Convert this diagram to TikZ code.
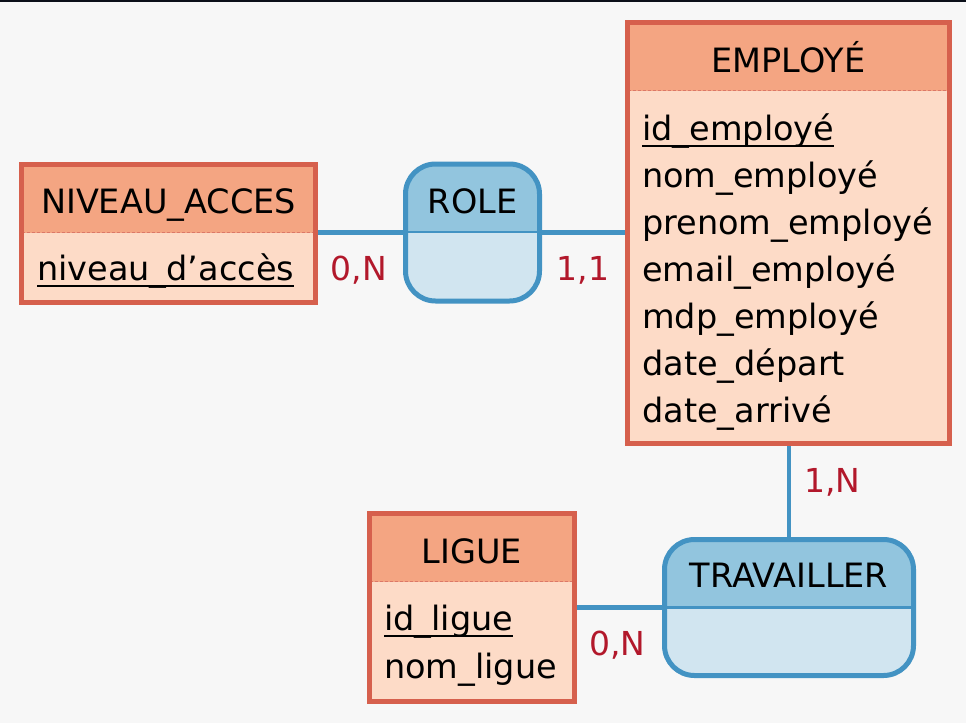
\documentclass[tikz,border=0pt]{standalone}
\usepackage{fontspec}
\setmainfont{DejaVu Sans}
\definecolor{entborder}{HTML}{D6604D}
\definecolor{enthead}{HTML}{F4A582}
\definecolor{entbody}{HTML}{FDDBC7}
\definecolor{asborder}{HTML}{4393C3}
\definecolor{ashead}{HTML}{92C5DE}
\definecolor{asbody}{HTML}{D1E5F0}
\definecolor{cardred}{HTML}{B2182B}
\definecolor{paper}{HTML}{F7F7F7}
\definecolor{topbar}{HTML}{0B0F19}
\def\keyattr#1{\setbox0\hbox{#1}\rlap{\rule[-7pt]{\wd0}{1.8pt}}\box0}
\tikzset{
  entity/.style={draw=entborder, line width=5pt, fill=entbody, inner sep=0pt,
    path picture={
      \fill[enthead, sharp corners] (path picture bounding box.north west) rectangle ([yshift=-68pt]path picture bounding box.north east);
      \draw[entborder!85, line width=1.5pt, dash pattern=on 3pt off 2pt] ([yshift=-68pt]path picture bounding box.north west) -- ([yshift=-68pt]path picture bounding box.north east);}},
  assoc/.style={draw=asborder, line width=5pt, fill=asbody, rounded corners=30pt, inner sep=0pt,
    path picture={
      \fill[ashead, sharp corners] (path picture bounding box.north west) rectangle ([yshift=-68pt]path picture bounding box.north east);
      \draw[asborder, line width=2.5pt, sharp corners] ([yshift=-68pt]path picture bounding box.north west) -- ([yshift=-68pt]path picture bounding box.north east);}},
  link/.style={draw=asborder, line width=4.5pt},
  title/.style={anchor=base, inner sep=0pt, font=\fontsize{33.5}{40}\selectfont},
  attr/.style={anchor=base west, inner sep=0pt, font=\fontsize{33.5}{40}\selectfont},
  card/.style={anchor=base, inner sep=0pt, text=cardred, font=\fontsize{33}{38}\selectfont},
}

\begin{document}
\begin{tikzpicture}[x=1pt, y=-1pt]
	%%%%% PAGE %%%%%
	\fill[paper] (0,0) rectangle (966,723);
	\fill[topbar] (0,0) rectangle (966,2);
	
	%%%%% BOXES %%%%%
	\node[entity, minimum width=322pt, minimum height=421pt] (employe) at (788.5,233) {};
	\node[entity, minimum width=294pt, minimum height=138pt] (niveau) at (168.5,233.5) {};
	\node[entity, minimum width=205pt, minimum height=188pt] (ligue) at (472,607.5) {};
	\node[assoc, minimum width=134pt, minimum height=137pt] (role) at (472.5,232.5) {};
	\node[assoc, minimum width=249pt, minimum height=136pt] (travailler) at (789,607.5) {};
	
	%%%%% LINKS %%%%%
	\draw[link] (role.west) -- (role.west -| niveau.east);
	\draw[link] (role.east) -- (role.east -| employe.west);
	\draw[link] (travailler.north) -- (travailler.north |- employe.south);
	\draw[link] (travailler.west) -- (travailler.west -| ligue.east);
	
	%%%%% TITLES %%%%%
	\node[title] (employe-title) at (788.5,72) {EMPLOYÉ};
	\node[title] (niveau-title) at (168.5,213) {NIVEAU\_ACCES};
	\node[title] (ligue-title) at (472,563) {LIGUE};
	\node[title] (role-title) at (472.5,213) {ROLE};
	\node[title] (travailler-title) at (789,587) {TRAVAILLER};
	
	%%%%% ATTRIBUTES %%%%%
	\node[attr] (employe-id) at (642,140) {\keyattr{id\_employé}};
	\foreach \attr [count=\i] in {nom\_employé, prenom\_employé, email\_employé, mdp\_employé, date\_départ, date\_arrivé}
		\node[attr] (employe-attr-\i) at (642,{140+47*\i}) {\attr};
	
	\node[attr] (niveau-id) at (37,280) {\keyattr{niveau\_d’accès}};
	
	\node[attr] (ligue-id) at (384,630) {\keyattr{id\_ligue}};
	\node[attr] (ligue-nom) at (384,678) {nom\_ligue};
	
	%%%%% CARDINALITIES %%%%%
	\node[card] (card-niveau) at (359,280) {0,N};
	\node[card] (card-role) at (583,280) {1,1};
	\node[card] (card-employe) at (832.5,492) {1,N};
	\node[card] (card-ligue) at (617.5,655) {0,N};
\end{tikzpicture}
\end{document}
